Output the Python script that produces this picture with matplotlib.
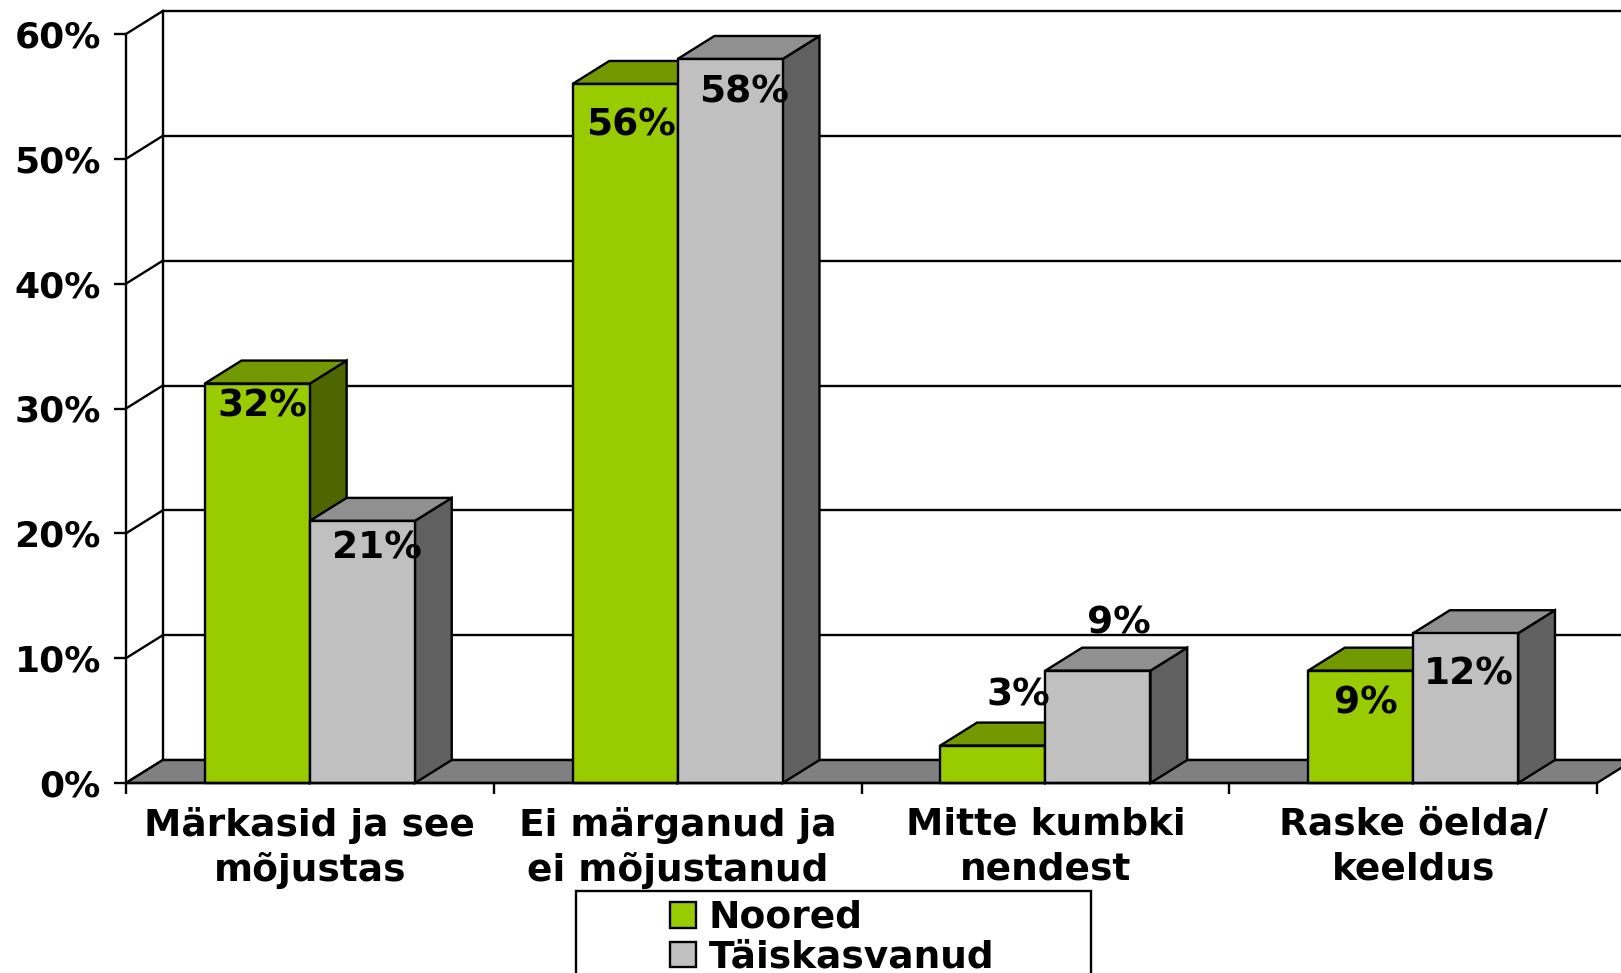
import numpy as np
import matplotlib.pyplot as plt
from matplotlib.patches import Polygon, Rectangle, Patch

plt.rcParams['font.family'] = 'DejaVu Sans'
plt.rcParams['font.weight'] = 'bold'

categories = ["Märkasid ja see\nmõjustas", "Ei märganud ja\nei mõjustanud",
              "Mitte kumbki\nnendest", "Raske öelda/\nkeeldus"]
series = ["Noored", "Täiskasvanud"]
noored = [32, 56, 3, 9]
taiskasvanud = [21, 58, 9, 12]
yticks = [0, 10, 20, 30, 40, 50, 60]

# face colours per series: front, top, side
front = ["#99CC00", "#C0C0C0"]
top = ["#739900", "#909090"]
side = ["#4D6600", "#606060"]

# label offsets (x in category units, y in percent) for each bar
lbl_off = [[(0.014, -1.8), (0.039, -2.2)],
           [(0.017, -3.3), (0.037, -2.7)],
           [(0.07, 4.0), (0.056, 3.8)],
           [(0.014, -2.6), (0.008, -3.3)]]

W, H = 1621, 973
fig = plt.figure(figsize=(W / 100, H / 100), dpi=100)
ax = fig.add_axes([126 / W, 190 / H, (1597 - 126) / W, (939 - 190) / H])
ax.set_xlim(0, 4)
ax.set_ylim(0, 60)

dx, dy = 0.1, 1.84      # depth of the 3-D box in data units
bw = 1 / 3.5            # bar width (gap width 150%)
lw = 1.7

# back wall gridlines and side-wall diagonals
for v in yticks:
    ax.plot([dx, 4 + dx + 0.2], [v + dy, v + dy], color="black", lw=lw, zorder=1, clip_on=False)
    ax.plot([0, dx], [v, v + dy], color="black", lw=lw, zorder=1, clip_on=False)
ax.plot([dx, dx], [dy, 60 + dy], color="black", lw=lw, zorder=1, clip_on=False)

# floor
ax.add_patch(Polygon([(0, 0), (4, 0), (4 + dx, dy), (dx, dy)], closed=True,
                     facecolor="#808080", edgecolor="black", lw=lw, zorder=2, clip_on=False))


def box(x0, v, k, z):
    x1 = x0 + bw
    ax.add_patch(Polygon([(x1, 0), (x1 + dx, dy), (x1 + dx, v + dy), (x1, v)], closed=True,
                         facecolor=side[k], edgecolor="black", lw=lw, zorder=z, clip_on=False))
    ax.add_patch(Polygon([(x0, v), (x1, v), (x1 + dx, v + dy), (x0 + dx, v + dy)], closed=True,
                         facecolor=top[k], edgecolor="black", lw=lw, zorder=z, clip_on=False))
    ax.add_patch(Rectangle((x0, 0), bw, v, facecolor=front[k], edgecolor="black",
                           lw=lw, zorder=z, clip_on=False))


for i, vals in enumerate(zip(noored, taiskasvanud)):
    for k, v in enumerate(vals):
        x0 = i + 0.5 - bw + k * bw
        box(x0, v, k, 3 + 2 * i + k)
        ox, oy = lbl_off[i][k]
        ax.text(x0 + bw / 2 + ox, v + oy, f"{v}%", ha="center", va="center",
                fontsize=27, fontweight="bold", zorder=20)

# axes
for s in ["top", "right"]:
    ax.spines[s].set_visible(False)
ax.spines["left"].set_linewidth(lw)
ax.spines["bottom"].set_linewidth(lw)
ax.spines["left"].set_zorder(15)
ax.spines["bottom"].set_zorder(15)
ax.set_yticks(yticks)
ax.set_yticklabels([f"{v}%" for v in yticks], fontsize=26, fontweight="bold")
ax.tick_params(axis="y", length=9, width=lw, pad=9)
ax.set_xticks([0.5, 1.5, 2.5, 3.5])
ax.set_xticklabels(categories, fontsize=27, fontweight="bold", linespacing=1.3)
ax.set_xticks([0, 1, 2, 3, 4], minor=True)
ax.tick_params(axis="x", which="major", length=0, pad=17)
ax.tick_params(axis="x", which="minor", length=8, width=lw)

# legend with a frame running off the bottom edge
fig.patches.append(Rectangle((576 / W, -0.05), (1091 - 576) / W, 0.05 + (973 - 891) / H,
                             transform=fig.transFigure, facecolor="white",
                             edgecolor="black", lw=lw, zorder=0))
handles = [Patch(facecolor=front[k], edgecolor="black", lw=lw) for k in range(2)]
fig.legend(handles, series, loc="upper left", bbox_to_anchor=(670 / W, (973 - 900) / H),
           frameon=False, prop={"weight": "bold", "size": 27},
           handlelength=0.68, handleheight=0.68, handletextpad=0.35,
           labelspacing=0.1, borderpad=0, borderaxespad=0)

fig.savefig("out.png", dpi=100)
